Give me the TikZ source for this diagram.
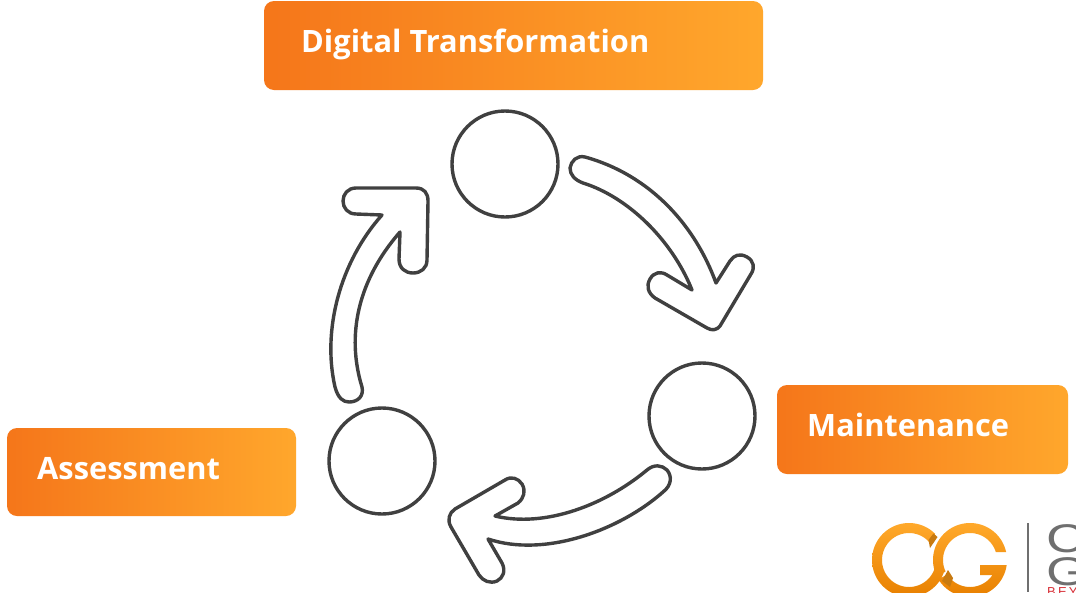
\documentclass[tikz,border=0pt]{standalone}
\usepackage{fontspec}
\setmainfont{Open Sans}
\newfontfamily\logofont{Liberation Sans}
\definecolor{orA}{HTML}{F5761A}
\definecolor{orB}{HTML}{FFA72C}
\definecolor{ink}{HTML}{404040}
\definecolor{logoT}{HTML}{FFA92B}
\definecolor{logoB}{HTML}{E88000}
\definecolor{logoD}{HTML}{C87A10}
\definecolor{logoG}{HTML}{6F6F6F}
\definecolor{logoR}{HTML}{D8323A}
\tikzset{
  orangebox/.style={rounded corners=10pt,left color=orA,right color=orB,draw=none,inner sep=0pt},
  boxlabel/.style={text=white,font=\fontsize{30.8}{36}\selectfont\bfseries,inner sep=0pt,anchor=base west},
  ring/.style={circle,draw=ink,line width=3.4pt,minimum size=106pt,inner sep=0pt,fill=white},
  blockarrow/.style={draw=ink,line width=3.4pt,fill=white,line join=round},
  logoletter/.style={inner sep=0pt,anchor=base west,text=logoG,font=\logofont\fontsize{40}{40}\selectfont,transform shape,xscale=1.35}
}
\begin{document}
\begin{tikzpicture}[x=1pt,y=-1pt]
\useasboundingbox (0,0) rectangle (1076,592);
\fill[white] (0,0) rectangle (1076,592);
% boxes
\node[orangebox,minimum width=499pt,minimum height=89pt] (digitalbox) at (513.5,45.5) {};
\node[orangebox,minimum width=291pt,minimum height=89pt] (maintbox) at (922.5,429.5) {};
\node[orangebox,minimum width=289pt,minimum height=88pt] (assessbox) at (151.5,472) {};
\node[boxlabel] (digitaltxt) at (301,52) {Digital Transformation};
\node[boxlabel] (mainttxt) at (807,436) {Maintenance};
\node[boxlabel] (assesstxt) at (37,479) {Assessment};
% circles
\node[ring] (top) at (505,164) {};
\node[ring] (right) at (702,416) {};
\node[ring] (left) at (382,461) {};
% left arrow
\draw[blockarrow] (362,387) .. controls (346,335) and (358,280) .. (400,232)
  -- (399,259) .. controls (399,268) and (405,273) .. (413,273) .. controls (421,273) and (427,268) .. (427,260)
  -- (428,201) .. controls (428,193) and (424,188) .. (416,188) -- (356,188)
  .. controls (348,188) and (343,194) .. (343,201) .. controls (343,208) and (348,214) .. (356,214)
  -- (382,215) .. controls (340,262) and (322,330) .. (335,387)
  .. controls (338,398) and (343,402) .. (349,402) .. controls (358,402) and (364,396) .. (362,387) -- cycle;
% top-right arrow
\draw[blockarrow] (583,183) .. controls (628,197) and (672,240) .. (692,290)
  -- (667,275) .. controls (661,271) and (654,272) .. (650,279) .. controls (646,286) and (648,293) .. (655,298)
  -- (707,328) .. controls (712,331) and (717,330) .. (720,326) -- (751,274)
  .. controls (755,268) and (754,261) .. (747,257) .. controls (740,253) and (734,255) .. (730,261)
  -- (716,283) .. controls (695,225) and (650,175) .. (585,157)
  .. controls (577,155) and (571,161) .. (570,168) .. controls (570,175) and (575,180) .. (583,183) -- cycle;
% bottom arrow
\draw[blockarrow] (663,492) .. controls (620,530) and (545,558) .. (488,539)
  -- (502,563) .. controls (506,571) and (503,578) .. (497,581) .. controls (490,584) and (483,581) .. (479,575)
  -- (451,527) .. controls (447,520) and (449,513) .. (455,509) -- (505,480)
  .. controls (511,476) and (518,478) .. (522,484) .. controls (526,491) and (524,498) .. (518,503)
  -- (495,516) .. controls (545,528) and (605,505) .. (647,470)
  .. controls (654,464) and (662,465) .. (667,470) .. controls (672,476) and (672,485) .. (663,492) -- cycle;
% logo
\shade[top color=logoT,bottom color=logoB]
  plot[domain=-45:-340,samples=70] ({909+37*cos(\x)},{560+37*sin(\x)})
  -- plot[domain=155:343,samples=50] ({970+27*cos(\x)},{560+27*sin(\x)})
  -- plot[domain=347.5:165,samples=50] ({970+37*cos(\x)},{560+37*sin(\x)})
  -- plot[domain=-340:-40,samples=70] ({909+27*cos(\x)},{560+27*sin(\x)}) -- cycle
  plot[domain=148:8,samples=50] ({970+37*cos(\x)},{560+37*sin(\x)})
  -- (980,565) -- (980,575)
  -- plot[domain=34:148,samples=40] ({970+27*cos(\x)},{560+27*sin(\x)}) -- cycle;
\fill[logoD] (933.5,533.5) -- (937.5,537) -- (930,548) -- (928.5,540) -- cycle;
\fill[logoD] (948,570) -- (942,581) -- (950,587) -- (953,578) -- cycle;
\draw[logoG,line width=1.5pt] (1028,523) -- (1028,592);
\node[logoletter] (logoc) at (1046,552) {C};
\node[logoletter] (logog) at (1046,585) {G};
\node[inner sep=0pt,anchor=base west,text=logoR,font=\logofont\fontsize{13}{13}\selectfont] (logor) at (1047,596.5) {B\,E\,Y};
\end{tikzpicture}
\end{document}
